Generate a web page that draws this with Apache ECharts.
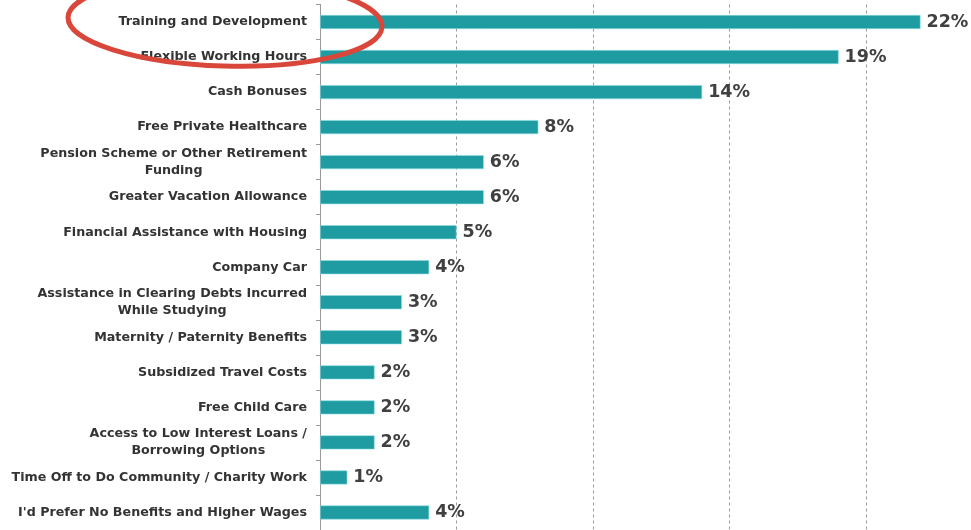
<!DOCTYPE html>
<html>
<head>
<meta charset="utf-8">
<script src="https://cdn.jsdelivr.net/npm/echarts@6/dist/echarts.min.js"></script>
<style>html,body{margin:0;padding:0;background:#fff;}#c{width:971px;height:530px;}</style>
</head>
<body>
<div id="c"></div>
<script>
var categories = [
  "Training and Development",
  "Flexible Working Hours",
  "Cash Bonuses",
  "Free Private Healthcare",
  "Pension Scheme or Other Retirement\nFunding",
  "Greater Vacation Allowance",
  "Financial Assistance with Housing",
  "Company Car",
  "Assistance in Clearing Debts Incurred\nWhile Studying",
  "Maternity / Paternity Benefits",
  "Subsidized Travel Costs",
  "Free Child Care",
  "Access to Low Interest Loans /\nBorrowing Options",
  "Time Off to Do Community / Charity Work",
  "I'd Prefer No Benefits and Higher Wages"
];
var values = [22, 19, 14, 8, 6, 6, 5, 4, 3, 3, 2, 2, 2, 1, 4];
var valueSuffix = "%";

var chart = echarts.init(document.getElementById('c'));
chart.setOption({
  animation: false,
  backgroundColor: '#fff',
  grid: { left: 320, right: 0, top: 4.5, height: 527, containLabel: false },
  xAxis: {
    type: 'value', min: 0, max: 23.85, interval: 5,
    axisLine: { show: false }, axisTick: { show: false }, axisLabel: { show: false },
    splitLine: { show: true, lineStyle: { color: '#9a9a9a', type: [3, 3], width: 1 } }
  },
  yAxis: {
    type: 'category', inverse: true, data: categories,
    axisLine: { show: true, lineStyle: { color: '#9a9a9a', width: 1 } },
    axisTick: { show: true, length: 4, lineStyle: { color: '#9a9a9a' } },
    axisLabel: {
      margin: 13,
      formatter: function (v) {
        return v.split('\n').map(function (s) { return '{c|' + s + '}'; }).join('\n');
      },
      rich: {
        c: { align: 'center', fontFamily: 'DejaVu Sans, sans-serif', fontSize: 12.7, fontWeight: 'bold', color: '#333', lineHeight: 17 }
      }
    }
  },
  series: [{
    type: 'bar', data: values, barWidth: 14,
    itemStyle: { color: '#1f9ba2', borderColor: '#8fdfe3', borderWidth: 0.6 },
    label: {
      show: true, position: 'right', distance: 6,
      formatter: function (p) { return p.value + valueSuffix; },
      fontFamily: 'DejaVu Sans, sans-serif', fontSize: 17.5, fontWeight: 'bold', color: '#404040'
    }
  }],
  graphic: [{
    type: 'ellipse', z: 100,
    shape: { cx: 225, cy: 22, rx: 157, ry: 44 },
    rotation: -0.03, originX: 225, originY: 22,
    style: { fill: 'none', stroke: '#d9473a', lineWidth: 5 }
  }]
});
</script>
</body>
</html>
